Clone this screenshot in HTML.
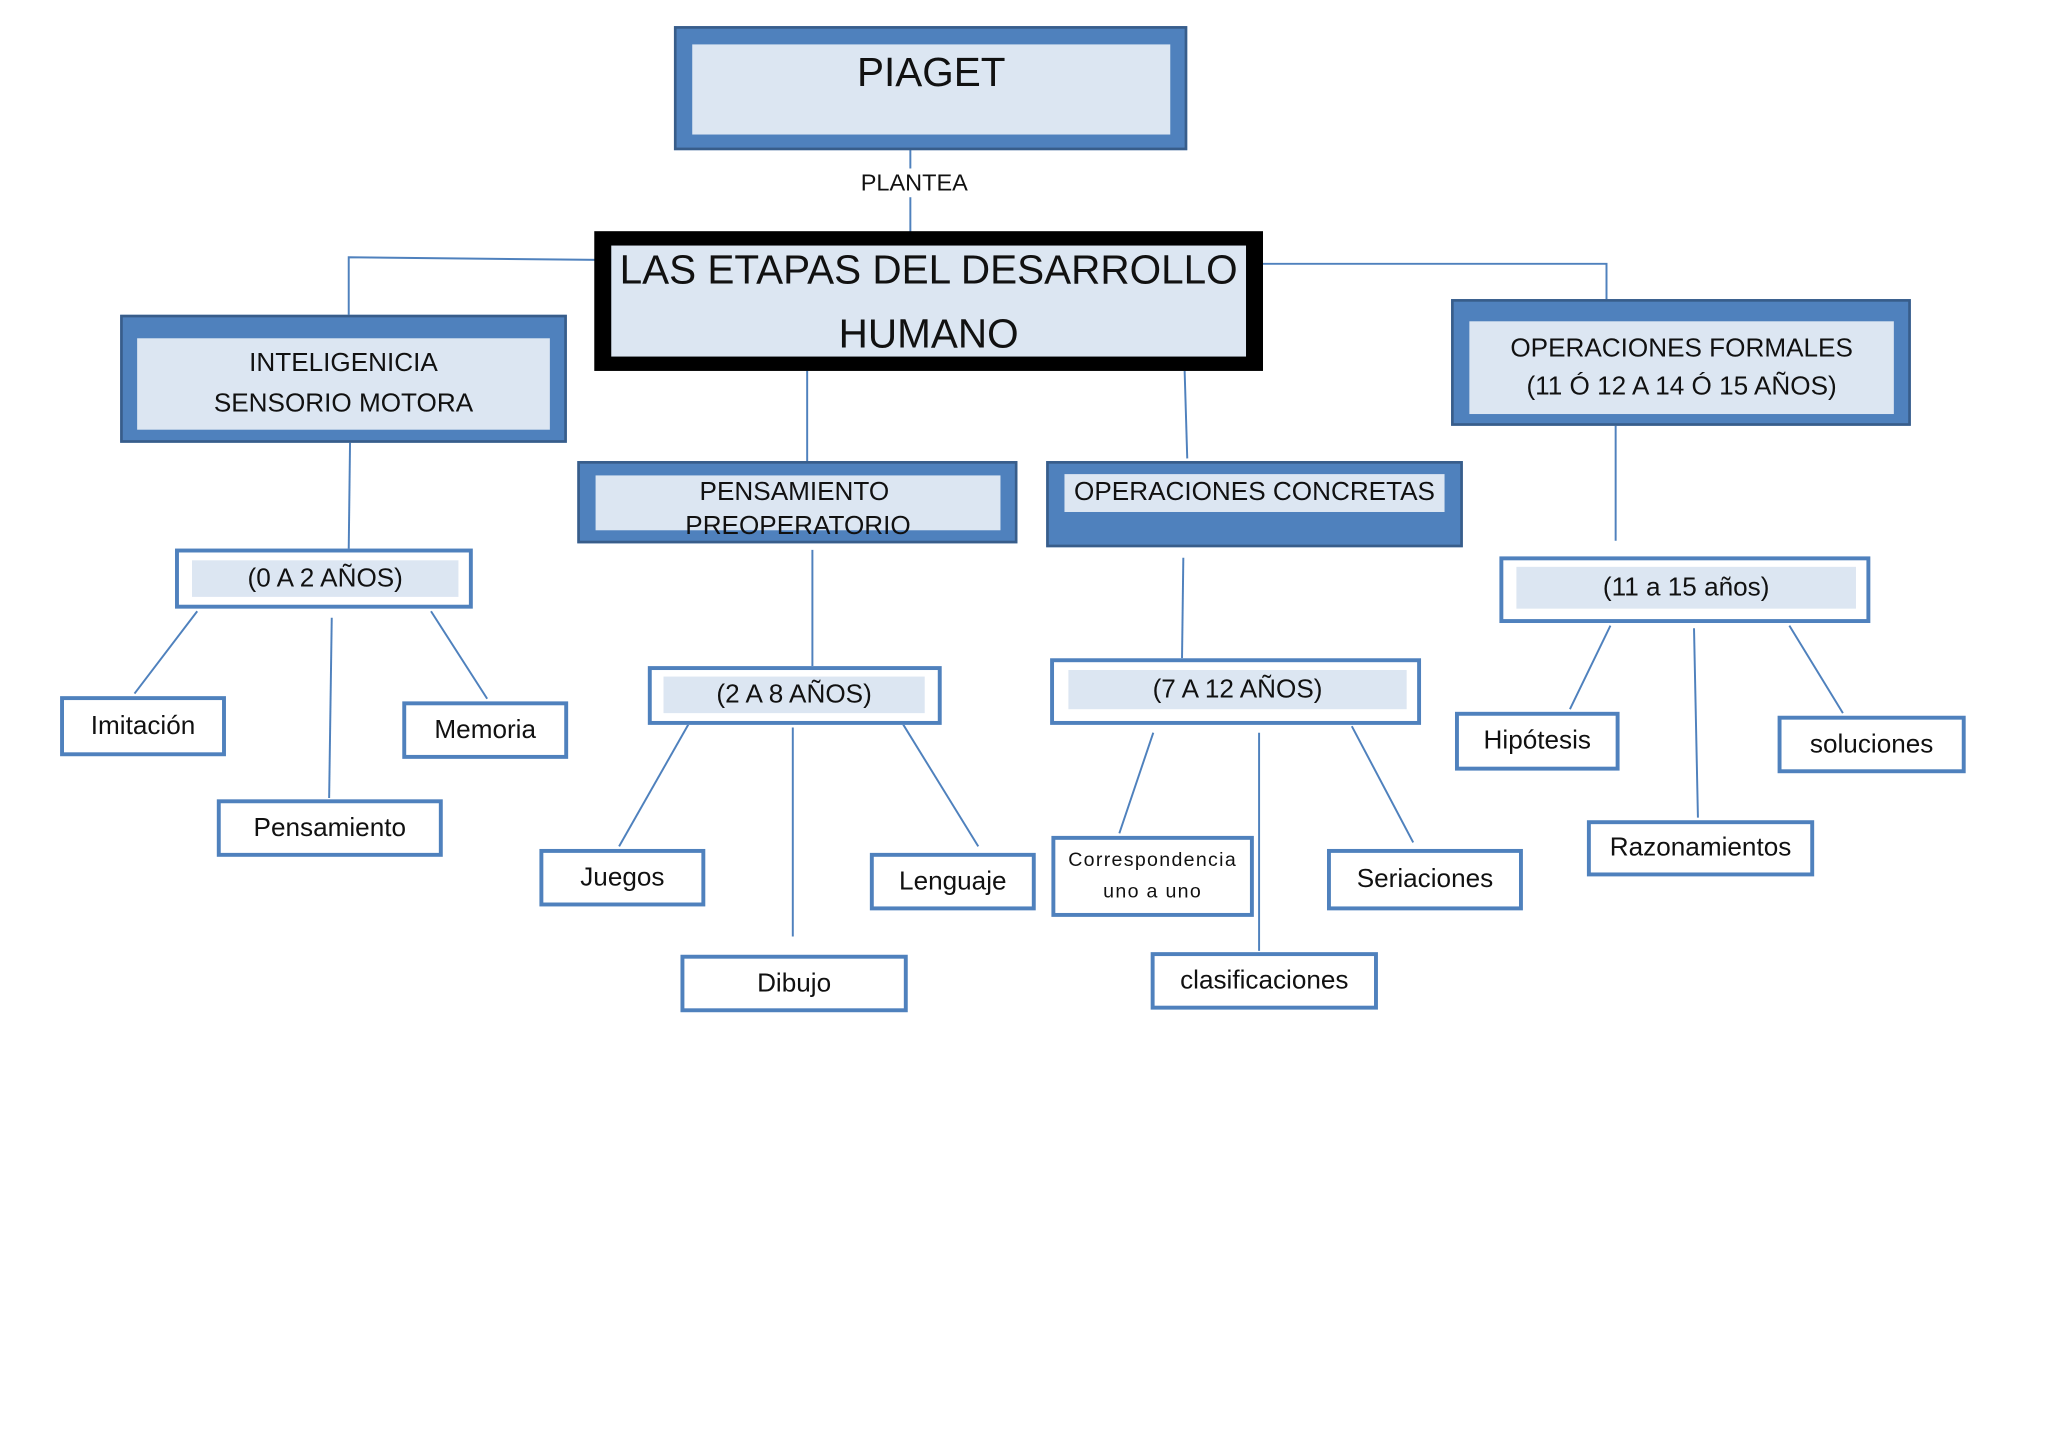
<!DOCTYPE html>
<html><head><meta charset="utf-8">
<style>
html,body{margin:0;padding:0;background:#fff;width:2048px;height:1448px;overflow:hidden}
#w{position:absolute;left:0;top:0;width:1568px;height:1110px;transform:scale(1.3061);transform-origin:0 0;font-family:"Liberation Sans Narrow","Liberation Sans",sans-serif;color:#111}
.b{position:absolute;box-sizing:border-box}
.big{background:#4f81bd;border:2px solid #385d8a}
.in{position:absolute;background:#dce6f2;box-sizing:border-box;display:flex;align-items:center;justify-content:center;text-align:center}
.age{background:#fff;border:3px solid #4f81bd}
.leaf{background:#fff;border:3px solid #4f81bd;display:flex;align-items:center;justify-content:center;text-align:center;font-size:20px}
svg{position:absolute;left:0;top:0}
</style></head><body><div id="w">
<svg width="1568" height="1110"><g stroke="#4f81bd" stroke-width="1.5" fill="none">
<line x1="697" y1="100" x2="697" y2="130"/><line x1="697" y1="150" x2="697" y2="185"/>
<polyline points="458,199 267,197 267,241"/>
<polyline points="967,202 1230,202 1230,229"/>
<line x1="618" y1="284" x2="618" y2="353"/>
<line x1="907" y1="284" x2="909" y2="351"/>
<line x1="268" y1="339" x2="267" y2="420"/>
<line x1="1237" y1="326" x2="1237" y2="414"/>
<line x1="622" y1="421" x2="622" y2="510"/>
<line x1="906" y1="427" x2="905" y2="504"/>
<line x1="151" y1="468" x2="103" y2="531"/><line x1="254" y1="473" x2="252" y2="611"/><line x1="330" y1="468" x2="373" y2="535"/>
<line x1="528" y1="553" x2="474" y2="648"/><line x1="607" y1="557" x2="607" y2="717"/><line x1="688" y1="549" x2="749" y2="648"/>
<line x1="883" y1="561" x2="857" y2="638"/><line x1="964" y1="561" x2="964" y2="728"/><line x1="1035" y1="556" x2="1082" y2="645"/>
<line x1="1233" y1="479" x2="1202" y2="543"/><line x1="1297" y1="481" x2="1300" y2="626"/><line x1="1370" y1="479" x2="1411" y2="546"/>
</g></svg>
<div style="position:absolute;left:659px;top:129px;font-size:18px;background:#fff;line-height:22px">PLANTEA</div>

<div class="b big" style="left:516px;top:20px;width:393px;height:95px"><div class="in" style="left:12px;top:12px;width:366px;height:69px;align-items:flex-start;padding-top:4px;font-size:31px">PIAGET</div></div>

<div class="b" style="left:455px;top:177px;width:512px;height:107px;background:#000"><div class="in" style="left:13px;top:11px;width:486px;height:85px;font-size:31px;line-height:49px">LAS ETAPAS DEL DESARROLLO<br>HUMANO</div></div>

<div class="b big" style="left:92px;top:241px;width:342px;height:98px"><div class="in" style="left:11px;top:16px;width:316px;height:70px;font-size:20px;line-height:31px">INTELIGENICIA<br>SENSORIO MOTORA</div></div>

<div class="b big" style="left:1111px;top:229px;width:352px;height:97px"><div class="in" style="left:12px;top:15px;width:325px;height:71px;font-size:20px;line-height:29px">OPERACIONES FORMALES<br>(11 Ó 12 A 14 Ó 15 AÑOS)</div></div>

<div class="b big" style="left:442px;top:353px;width:337px;height:63px"><div class="in" style="left:12px;top:9px;width:310px;height:42px;align-items:flex-start;font-size:20px;line-height:26px">PENSAMIENTO&nbsp; PREOPERATORIO</div></div>

<div class="b big" style="left:801px;top:353px;width:319px;height:66px"><div class="in" style="left:12px;top:8px;width:291px;height:29px;font-size:20px">OPERACIONES CONCRETAS</div></div>

<div class="b age" style="left:134px;top:420px;width:228px;height:46px"><div class="in" style="left:10px;top:6px;width:204px;height:28px;font-size:20px">(0 A 2 AÑOS)</div></div>
<div class="b age" style="left:496px;top:510px;width:225px;height:45px"><div class="in" style="left:9px;top:5px;width:200px;height:28px;font-size:20px">(2 A 8 AÑOS)</div></div>
<div class="b age" style="left:804px;top:504px;width:284px;height:51px"><div class="in" style="left:11px;top:6px;width:259px;height:30px;font-size:20px">(7 A 12 AÑOS)</div></div>
<div class="b age" style="left:1148px;top:426px;width:284px;height:51px"><div class="in" style="left:10px;top:5px;width:260px;height:32px;font-size:20px">(11 a 15 años)</div></div>

<div class="b leaf" style="left:46px;top:533px;width:127px;height:46px">Imitación</div>
<div class="b leaf" style="left:308px;top:537px;width:127px;height:44px">Memoria</div>
<div class="b leaf" style="left:166px;top:612px;width:173px;height:44px">Pensamiento</div>
<div class="b leaf" style="left:413px;top:650px;width:127px;height:44px">Juegos</div>
<div class="b leaf" style="left:666px;top:653px;width:127px;height:44px">Lenguaje</div>
<div class="b leaf" style="left:521px;top:731px;width:174px;height:44px">Dibujo</div>
<div class="b leaf" style="left:805px;top:640px;width:155px;height:62px;font-size:15px;line-height:24px;letter-spacing:1px">Correspondencia<br>uno a uno</div>
<div class="b leaf" style="left:1016px;top:650px;width:150px;height:47px">Seriaciones</div>
<div class="b leaf" style="left:881px;top:729px;width:174px;height:44px">clasificaciones</div>
<div class="b leaf" style="left:1114px;top:545px;width:126px;height:45px">Hipótesis</div>
<div class="b leaf" style="left:1361px;top:548px;width:144px;height:44px">soluciones</div>
<div class="b leaf" style="left:1215px;top:628px;width:174px;height:43px">Razonamientos</div>
</div></body></html>
